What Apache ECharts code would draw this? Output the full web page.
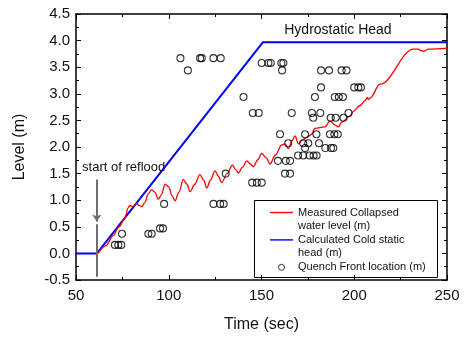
<!DOCTYPE html>
<html>
<head>
<meta charset="utf-8">
<script src="https://cdn.jsdelivr.net/npm/echarts@6/dist/echarts.min.js"></script>
<style>
    html, body { margin: 0; padding: 0; background: #fff; }
    #myChart { width: 465px; height: 338px; }
</style>
</head>
<body>
<div id="myChart"></div>
<script>
    // axis ticks
    let timeTicks = [50, 100, 150, 200, 250];
    let levelTicks = [-0.5, 0, 0.5, 1, 1.5, 2, 2.5, 3, 3.5, 4, 4.5];

    // measured collapsed water level (red)
    let redTime = [62, 66, 70, 73, 76.4, 78, 79, 80.5, 82.7, 84, 85.5, 87, 89, 90.8, 92.5, 94.4, 96, 98, 100, 101.8,
        103.4, 105.5, 107.8, 109.8, 111.5, 114, 116.8, 118.8, 120.5, 122.5, 124.9, 126.8, 128.5, 131.5, 134.3, 136,
        137.5, 139.8, 142, 144, 145.6, 148, 150.1, 152.5, 154.6, 157.5, 160.9, 162.7, 164.5, 166.5, 168.1, 169.9,
        172, 174.4, 177.1, 178.8, 184.2, 187, 189.7, 191.5, 193.3, 197.7, 199.5, 203.1, 205.8, 207, 207.6, 208.5,
        213.9, 231.9, 234.6, 236, 237.3, 240, 250];
    let redLevel = [0, 0.14, 0.33, 0.49, 0.66, 0.85, 0.9, 0.88, 0.94, 0.9, 0.88, 0.95, 1.12, 1.2, 1.15, 1.02, 1.1, 1.3, 1.25, 1.08,
        0.99, 1.15, 1.39, 1.3, 1.16, 1.3, 1.48, 1.38, 1.23, 1.38, 1.55, 1.45, 1.33, 1.5, 1.66, 1.58,
        1.51, 1.62, 1.74, 1.68, 1.63, 1.76, 1.88, 1.8, 1.68, 1.85, 2.04, 2.06, 1.97, 2.12, 2.21, 2.06,
        2.13, 2.18, 2.24, 2.35, 2.38, 2.49, 2.41, 2.38, 2.47, 2.58, 2.67, 2.78, 2.87, 2.93, 2.89, 2.92,
        3.18, 3.84, 3.84, 3.81, 3.8, 3.84, 3.86];

    // calculated cold static head (blue)
    let blueTime = [50, 61.3, 150.8, 250];
    let blueLevel = [0, 0, 3.97, 3.97];

    // quench front location (circles)
    let quenchTime = [71.0, 72.8, 74.4, 74.8, 89.0, 90.8, 95.3, 96.9, 97.5, 124.1, 127.7, 129.6, 130.7, 162.7, 165.4,
        145.0, 147.5, 150.1, 158.9, 163.1, 165.4, 169.7, 172.5, 175.9, 178.1, 179.7, 173.5, 184.4, 187.5, 188.7,
        164.4, 172.5, 175.2, 181.0, 160.0, 173.5, 179.6, 186.9, 189.3, 191.1, 177.9, 187.3, 190.0, 194.2,
        145.3, 148.5, 166.3, 177.2, 181.7, 196.9, 140.3, 178.8, 189.5, 191.7, 193.9, 182.1, 200.0, 202.2, 203.6,
        110.3, 161.1, 182.1, 186.4, 193.2, 195.8, 150.1, 153.7, 155.0, 160.7, 161.8, 106.3, 116.9, 117.8, 124.1, 128.0];
    let quenchLevel = [0.16, 0.16, 0.16, 0.37, 0.37, 0.37, 0.47, 0.47, 0.93, 0.93, 0.93, 0.93, 1.50, 1.50, 1.50,
        1.33, 1.33, 1.33, 1.74, 1.74, 1.74, 1.84, 1.84, 1.84, 1.84, 1.84, 1.98, 1.98, 1.98, 1.98,
        2.07, 2.07, 2.07, 2.07, 2.24, 2.24, 2.24, 2.24, 2.24, 2.24, 2.55, 2.55, 2.55, 2.55,
        2.64, 2.64, 2.64, 2.64, 2.64, 2.64, 2.94, 2.94, 2.94, 2.94, 2.94, 3.12, 3.12, 3.12, 3.12,
        3.44, 3.44, 3.44, 3.44, 3.44, 3.44, 3.58, 3.58, 3.58, 3.58, 3.58, 3.67, 3.67, 3.67, 3.67, 3.67];

    let redName = 'Measured Collapsed\nwater level (m)';
    let blueName = 'Calculated Cold static\nhead (m)';
    let quenchName = 'Quench Front location (m)';

    let font = 'Liberation Sans, Arial, sans-serif';
    let axisLine = { show: true, onZero: false, lineStyle: { color: '#000', width: 1.5 } };
    let tick = { show: true, inside: true, length: 5, lineStyle: { color: '#000', width: 1 } };
    let minor = { show: true, splitNumber: 2, length: 3, lineStyle: { color: '#000', width: 1 } };
    // legend line sample: a thin bar
    let lineIcon = 'path://M0,0h23v1.4h-23z';

    let myChart = echarts.init(document.getElementById('myChart'));
    let options = {
        animation: false,
        textStyle: { fontFamily: font },
        grid: { left: 76, right: 18, top: 14, bottom: 52 },
        legend: {
            orient: 'vertical',
            left: 270,
            top: 193,
            padding: 0,
            itemWidth: 23,
            itemHeight: 6,
            itemGap: -11.6,
            // a blank first line keeps the sample next to the first text line
            data: [
                { name: redName, icon: lineIcon },
                { name: blueName, icon: lineIcon },
                { name: quenchName, icon: 'circle', itemStyle: { color: 'rgba(0,0,0,0)', borderColor: '#000', borderWidth: 1 } }
            ],
            formatter: name => name.indexOf('\n') >= 0 ? ' \n' + name : ' \n' + name + '\n ',
            textStyle: { fontFamily: font, fontSize: 11, color: '#111', lineHeight: 13 }
        },
        graphic: [{
            type: 'rect',
            shape: { x: 254.5, y: 200.5, width: 183, height: 77 },
            style: { fill: 'none', stroke: '#000', lineWidth: 1 }
        }],
        xAxis: [{
            type: 'value',
            min: timeTicks[0],
            max: timeTicks[timeTicks.length - 1],
            interval: 50,
            name: 'Time (sec)',
            nameLocation: 'middle',
            nameGap: 37,
            nameTextStyle: { fontSize: 16, color: '#111', fontFamily: font },
            axisLine: axisLine,
            axisTick: tick,
            minorTick: minor,
            splitLine: { show: false },
            axisLabel: { fontSize: 15, color: '#111', margin: 8, fontFamily: font }
        }, {
            type: 'value',
            position: 'top',
            min: timeTicks[0],
            max: timeTicks[timeTicks.length - 1],
            interval: 50,
            axisLine: axisLine,
            axisTick: tick,
            minorTick: minor,
            splitLine: { show: false },
            axisLabel: { show: false }
        }],
        yAxis: [{
            type: 'value',
            min: levelTicks[0],
            max: levelTicks[levelTicks.length - 1],
            interval: 0.5,
            name: 'Level (m)',
            nameLocation: 'middle',
            nameGap: 48,
            nameTextStyle: { fontSize: 16, color: '#111', fontFamily: font },
            axisLine: axisLine,
            axisTick: tick,
            minorTick: minor,
            splitLine: { show: false },
            axisLabel: { fontSize: 15, color: '#111', margin: 6, fontFamily: font, formatter: v => v.toFixed(1) }
        }, {
            type: 'value',
            position: 'right',
            min: levelTicks[0],
            max: levelTicks[levelTicks.length - 1],
            interval: 0.5,
            axisLine: axisLine,
            axisTick: tick,
            minorTick: minor,
            splitLine: { show: false },
            axisLabel: { show: false }
        }],
        series: [
            {
                name: redName,
                type: 'line',
                symbol: 'none',
                smooth: 0.35,
                smoothMonotone: 'x',
                color: '#ff0000',
                lineStyle: { color: '#ff0000', width: 1.3 },
                data: redTime.map((t, i) => [t, redLevel[i]]),
                z: 3,
                markPoint: {
                    symbol: 'circle',
                    symbolSize: 0,
                    silent: true,
                    label: { show: true, position: 'inside', color: '#111', fontSize: 13, fontFamily: font, formatter: p => p.name },
                    data: [{ name: 'start of reflood', coord: [75.7, 1.62] }]
                },
                markLine: {
                    silent: true,
                    symbolSize: 7,
                    label: { show: false },
                    lineStyle: { color: '#6e6e6e', width: 2, type: 'solid' },
                    data: [
                        [{ coord: [61.2, 1.39], symbol: 'none' }, { coord: [61.2, 0.6], symbol: 'arrow' }],
                        [{ coord: [61.2, 0.55], symbol: 'none' }, { coord: [61.2, -0.44], symbol: 'none' }]
                    ]
                }
            },
            {
                name: blueName,
                type: 'line',
                symbol: 'none',
                color: '#0000ff',
                lineStyle: { color: '#0000ff', width: 2 },
                data: blueTime.map((t, i) => [t, blueLevel[i]]),
                z: 2,
                markPoint: {
                    symbol: 'circle',
                    symbolSize: 0,
                    silent: true,
                    label: { show: true, position: 'inside', color: '#111', fontSize: 14, fontFamily: font, formatter: p => p.name },
                    data: [{ name: 'Hydrostatic Head', coord: [191.2, 4.2] }]
                }
            },
            {
                name: quenchName,
                type: 'scatter',
                symbol: 'circle',
                symbolSize: 7,
                itemStyle: { color: 'rgba(0,0,0,0)', borderColor: '#000', borderWidth: 1.1 },
                data: quenchTime.map((t, i) => [t, quenchLevel[i]]),
                z: 4
            }
        ]
    };
    myChart.setOption(options);
</script>
</body>
</html>
